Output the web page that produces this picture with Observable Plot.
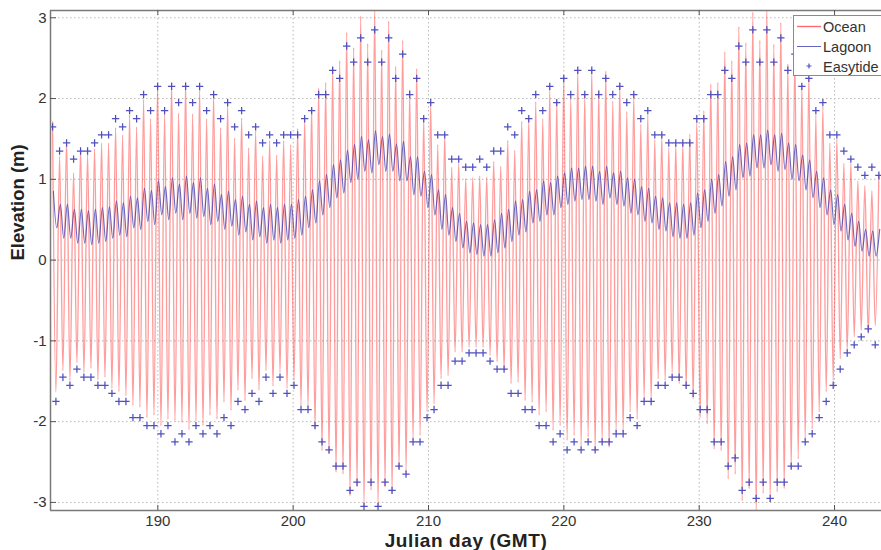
<!DOCTYPE html>
<html>
<head>
<meta charset="utf-8">
<script src="https://cdn.jsdelivr.net/npm/d3@7"></script>
<script src="https://cdn.jsdelivr.net/npm/@observablehq/plot@0.6"></script>
<style>
  html, body { margin: 0; padding: 0; background: #fff; overflow: hidden; }
  #wrap { position: relative; width: 881px; height: 550px; overflow: hidden; }
  #legend { position: absolute; left: 793px; top: 15px; width: 110px; height: 61px;
            background: #fff; border: 1px solid #8a8a8a; box-sizing: border-box; }
  .xlabel { letter-spacing: 0.6px; }
</style>
</head>
<body>
<div id="wrap">
  <div id="chart"></div>
  <div id="legend">
    <svg width="110" height="61" style="display:block;font-family:'Liberation Sans',Arial,sans-serif;font-size:14.5px;fill:#333">
      <line x1="3" x2="27" y1="10.5" y2="10.5" stroke="#ff4040" stroke-width="1.3" stroke-opacity="0.8"/>
      <text x="29" y="16">Ocean</text>
      <line x1="3" x2="27" y1="30.5" y2="30.5" stroke="#4a4ab8" stroke-width="1" stroke-opacity="0.85"/>
      <text x="29" y="36">Lagoon</text>
      <path d="M12.5,50h5M15,47.5v5" stroke="#5050c0" stroke-width="1.2" fill="none"/>
      <text x="29" y="55.5">Easytide</text>
    </svg>
  </div>
</div>
<script>
// ---- axes / ticks ----
const xTicks = [190, 200, 210, 220, 230, 240];
const yTicks = [-3, -2, -1, 0, 1, 2, 3];
const xDomain = [182.07, 243.47];
const yDomain = [-3.1, 3.09];

const highStart = 182.223;   // Julian day of first high water
const lowStart = 182.47;     // Julian day of first low water
const tidePeriod = 0.5174;   // days between successive high waters
const lagoonLag = 0.06;      // lagoon extremes lag the ocean slightly

// ---- Ocean (measured) high-water and low-water heights, m ----
const oceanHigh = [
  1.71,1.29,1.49,1.08,1.38,1.31,1.38,1.45,1.45,1.64, 1.55,1.80,1.65,1.99,1.75,2.17,1.81,2.20,1.82,2.21,
  1.81,2.12,1.75,2.05,1.64,1.93,1.51,1.76,1.39,1.60, 1.29,1.48,1.30,1.48,1.43,1.63,1.74,1.89,2.13,2.20,
  2.39,2.47,2.82,2.63,3.02,2.68,3.15,2.60,2.96,2.40, 2.72,2.11,2.37,1.76,1.95,1.43,1.56,1.15,1.20,1.01,
  1.02,1.04,1.03,1.22,1.16,1.48,1.36,1.72,1.75,1.96, 1.75,2.13,1.97,2.28,2.01,2.36,2.05,2.36,2.11,
  2.34,1.97,2.20,1.84,2.04,1.68,1.80,1.49,1.54,1.39, 1.43,1.45,1.56,1.72,1.85,2.18,2.20,2.58,2.47,2.89,
  2.69,3.07,2.72,3.15,2.67,2.94,2.43,2.60,2.17,2.30, 1.80,1.90,1.45,1.50,1.20,1.20,0.98,0.92,0.86,1.05
];
const oceanLow = [
  -1.63,-1.37,-1.49,-1.27,-1.39,-1.34,-1.48,-1.45,-1.59,-1.63, -1.68,-1.80,-1.82,-1.95,-1.92,-2.05,-1.97,-1.99,-2.01,-2.10,
  -1.99,-2.05,-1.92,-1.97,-1.76,-1.86,-1.61,-1.74,-1.47,-1.61, -1.37,-1.56,-1.39,-1.59,-1.49,-1.80,-1.82,-2.09,-2.36,
  -2.40,-2.63,-2.65,-2.92,-2.81,-3.05,-2.85,-3.06,-2.81,-2.89, -2.59,-2.63,-2.23,-2.17,-1.88,-1.78,-1.47,-1.43,-1.14,-1.14,
  -1.08,-1.08,-1.08,-1.18,-1.26,-1.37,-1.53,-1.51,-1.74,-1.76, -1.92,-1.88,-2.11,-2.05,-2.23,-2.17,-2.30,-2.19,-2.36,-2.25,
  -2.32,-2.13,-2.13,-1.88,-1.97,-1.72,-1.74,-1.47,-1.49,-1.39, -1.53,-1.59,-1.72,-1.95,-2.03,-2.34,-2.36,-2.71,-2.65,-2.98,
  -2.83,-3.15,-2.89,-3.00,-2.87,-2.83,-2.59,-2.46,-2.23,-2.09, -1.88,-1.63,-1.49,-1.22,-1.12,-0.95,-0.87,-0.91,-0.81
];

// ---- Lagoon high-water and low-water heights, m ----
const lagoonHigh = [
  0.85,0.69,0.69,0.63,0.63,0.61,0.63,0.65,0.66,0.73, 0.71,0.79,0.77,0.89,0.86,0.98,0.91,1.02,0.94,1.04,
  0.96,1.02,0.89,0.94,0.81,0.85,0.75,0.79,0.69,0.73, 0.65,0.69,0.65,0.69,0.69,0.75,0.79,0.87,0.98,1.06,
  1.18,1.24,1.36,1.43,1.53,1.49,1.60,1.53,1.56,1.44, 1.47,1.28,1.28,1.10,1.06,0.87,0.81,0.65,0.58,0.48,
  0.46,0.44,0.44,0.50,0.58,0.63,0.73,0.75,0.85,0.87, 0.98,0.96,1.04,1.08,1.14,1.14,1.16,1.16,1.10,
  1.16,1.08,1.10,1.02,1.00,0.91,0.89,0.79,0.77,0.71, 0.71,0.69,0.71,0.83,0.87,1.00,1.06,1.22,1.28,1.43,
  1.45,1.55,1.55,1.61,1.55,1.57,1.45,1.43,1.30,1.24, 1.10,1.02,0.87,0.81,0.69,0.58,0.48,0.38,0.36,0.38
];
const lagoonLow = [
  0.40,0.27,0.27,0.21,0.21,0.19,0.21,0.23,0.27,0.31, 0.29,0.40,0.38,0.48,0.44,0.56,0.50,0.58,0.50,0.58,
  0.52,0.54,0.44,0.48,0.38,0.42,0.31,0.35,0.25,0.29, 0.21,0.25,0.21,0.25,0.27,0.31,0.40,0.46,0.56,0.65,
  0.77,0.83,0.96,1.00,1.10,1.08,1.18,1.10,1.10,0.98, 0.98,0.81,0.79,0.65,0.56,0.38,0.31,0.23,0.15,0.09,
  0.07,0.05,0.05,0.09,0.15,0.23,0.31,0.35,0.46,0.48, 0.56,0.56,0.65,0.69,0.73,0.75,0.75,0.73,0.69,
  0.77,0.69,0.67,0.58,0.56,0.48,0.46,0.38,0.36,0.29, 0.27,0.27,0.31,0.40,0.48,0.58,0.67,0.79,0.87,1.02,
  1.04,1.14,1.14,1.18,1.10,1.12,1.00,0.98,0.87,0.77, 0.65,0.56,0.44,0.36,0.25,0.17,0.11,0.05,0.05
];

// ---- Easytide predicted high-water and low-water heights, m ----
const easyHigh = [
  1.65,1.35,1.45,1.25,1.35,1.35,1.45,1.55,1.55,1.75, 1.65,1.85,1.75,2.05,1.85,2.15,1.85,2.15,1.95,2.15,
  1.95,2.15,1.85,2.05,1.75,1.95,1.65,1.85,1.55,1.65, 1.45,1.55,1.45,1.55,1.55,1.55,1.75,1.85,2.05,2.05,
  2.35,2.25,2.65,2.45,2.75,2.45,2.85,2.45,2.75,2.25, 2.55,2.05,2.25,1.75,1.95,1.55,1.55,1.25,1.25,1.15,
  1.15,1.25,1.15,1.35,1.35,1.65,1.55,1.85,1.75,2.05, 1.85,2.15,1.95,2.25,2.05,2.35,2.05,2.35,2.05,
  2.25,2.05,2.15,1.95,2.05,1.75,1.85,1.55,1.55,1.45, 1.45,1.45,1.45,1.75,1.75,2.05,2.05,2.35,2.25,2.65,
  2.45,2.85,2.45,2.85,2.45,2.75,2.35,2.55,2.15,2.25, 1.85,1.95,1.55,1.55,1.35,1.25,1.15,1.05,1.15,1.05
];
const easyLow = [
  -1.75,-1.45,-1.55,-1.35,-1.45,-1.45,-1.55,-1.55,-1.65,-1.75, -1.75,-1.95,-1.95,-2.05,-2.05,-2.15,-2.05,-2.25,-2.15,-2.25,
  -2.05,-2.15,-2.05,-2.15,-1.95,-2.05,-1.75,-1.85,-1.65,-1.75, -1.45,-1.65,-1.45,-1.65,-1.55,-1.85,-1.85,-2.05,-2.25,
  -2.35,-2.55,-2.55,-2.85,-2.75,-3.05,-2.75,-3.05,-2.75,-2.85, -2.55,-2.65,-2.25,-2.25,-1.95,-1.85,-1.55,-1.55,-1.25,-1.25,
  -1.15,-1.15,-1.15,-1.25,-1.35,-1.35,-1.65,-1.65,-1.85,-1.85, -2.05,-2.05,-2.25,-2.15,-2.35,-2.25,-2.35,-2.25,-2.35,-2.25,
  -2.25,-2.15,-2.15,-1.95,-2.05,-1.75,-1.75,-1.55,-1.55,-1.45, -1.45,-1.55,-1.65,-1.85,-1.85,-2.25,-2.25,-2.55,-2.45,-2.85,
  -2.75,-2.95,-2.75,-2.95,-2.75,-2.75,-2.55,-2.55,-2.25,-2.15, -1.95,-1.75,-1.55,-1.35,-1.15,-1.05,-0.95,-0.85,-1.05
];

// ---- build tables (alternating high / low waters) ----
function extremes(highs, lows, lag) {
  const rows = [];
  highs.forEach((v, i) => {
    rows.push({day: highStart + lag + i * tidePeriod, h: v});
    if (i < lows.length) rows.push({day: lowStart + lag + i * tidePeriod, h: lows[i]});
  });
  return rows;
}
const ocean = extremes(oceanHigh, oceanLow, 0);
const lagoon = extremes(lagoonHigh, lagoonLow, lagoonLag);
const easytide = extremes(easyHigh, easyLow, 0);

const fmt = d => String(d);
const chart = Plot.plot({
  width: 881,
  height: 550,
  marginLeft: 50,
  marginRight: 0,
  marginTop: 10,
  marginBottom: 40,
  style: {fontFamily: "'Liberation Sans', Arial, sans-serif", background: "#fff", color: "#333"},
  x: {domain: xDomain, axis: null},
  y: {domain: yDomain, axis: null},
  marks: [
    // dotted grid
    Plot.ruleX(xTicks, {stroke: "#b8b8b8", strokeDasharray: "1.5,2.5", strokeWidth: 1}),
    Plot.ruleY(yTicks, {stroke: "#b8b8b8", strokeDasharray: "1.5,2.5", strokeWidth: 1}),
    // series
    Plot.line(ocean, {x: "day", y: "h", curve: "monotone-x", stroke: "#ff2a2a", strokeWidth: 1.35, strokeOpacity: 0.46, clip: true}),
    Plot.line(lagoon, {x: "day", y: "h", curve: "monotone-x", stroke: "#3434aa", strokeWidth: 1.15, strokeOpacity: 0.72, clip: true}),
    Plot.dot(easytide, {x: "day", y: "h", symbol: "plus", r: 2.5, stroke: "#4f4fc0", strokeWidth: 1.25, clip: true}),
    // frame (left, top, bottom)
    Plot.ruleX([xDomain[0]], {stroke: "#7a7a7a", strokeWidth: 1.5}),
    Plot.ruleY(yDomain, {stroke: "#7a7a7a", strokeWidth: 1.5}),
    // inward ticks
    Plot.ruleX(xTicks, {insetTop: 495, stroke: "#555"}),
    Plot.ruleX(xTicks, {insetBottom: 495, stroke: "#555"}),
    Plot.ruleY(yTicks, {insetRight: 825, stroke: "#555"}),
    // tick labels
    Plot.axisX(xTicks, {anchor: "bottom", tickSize: 0, tickPadding: 5, fontSize: 15, tickFormat: fmt, label: null, color: "#333"}),
    Plot.axisY(yTicks, {anchor: "left", tickSize: 0, tickPadding: 4, fontSize: 15, tickFormat: fmt, label: null, color: "#333"}),
    // axis titles
    Plot.text(["Julian day (GMT)"], {frameAnchor: "bottom", dy: 30, fontSize: 19, fontWeight: "bold", fill: "#222", lineAnchor: "middle", className: "xlabel"}),
    Plot.text(["Elevation (m)"], {frameAnchor: "left", dx: -32, rotate: -90, fontSize: 18.5, fontWeight: "bold", fill: "#222", lineAnchor: "middle"})
  ]
});
document.getElementById("chart").appendChild(chart);
</script>
</body>
</html>
